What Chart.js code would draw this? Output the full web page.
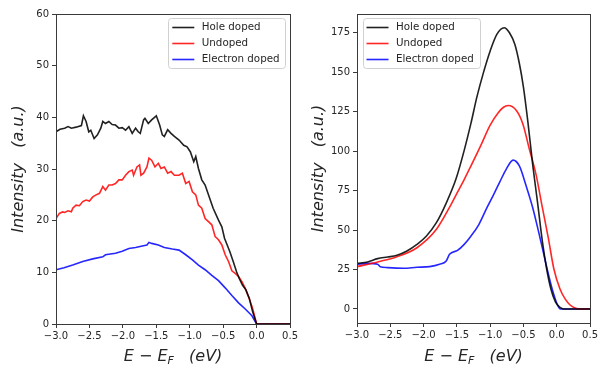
<!DOCTYPE html>
<html lang="en">
<head>
<meta charset="UTF-8">
<title>Doping spectra</title>
<style>
  body { margin: 0; background: #fff; }
  .wrap { display: flex; width: 600px; height: 368px; }
  .wrap div { width: 300px; height: 368px; }
</style>
</head>
<body>
<div class="wrap">
  <div><canvas id="left" width="300" height="368"></canvas></div>
  <div><canvas id="right" width="300" height="368"></canvas></div>
</div>

<script src="https://cdn.jsdelivr.net/npm/chart.js"></script>
<script>
// ---- data ----
const seriesNames = ['Hole doped', 'Undoped', 'Electron doped'];
const xTicks = [-3.0, -2.5, -2.0, -1.5, -1.0, -0.5, 0.0, 0.5];
const yTicksLeft = [0, 10, 20, 30, 40, 50, 60];
const yTicksRight = [0, 25, 50, 75, 100, 125, 150, 175];

// left panel
const holeE_L = [-3.0,-2.94,-2.87,-2.82,-2.77,-2.70,-2.62,-2.59,-2.55,-2.51,-2.48,-2.43,-2.38,-2.33,-2.30,-2.26,-2.21,-2.16,-2.11,-2.06,-2.01,-1.96,-1.91,-1.86,-1.81,-1.77,-1.74,-1.69,-1.67,-1.62,-1.57,-1.50,-1.45,-1.41,-1.38,-1.33,-1.28,-1.23,-1.16,-1.09,-1.04,-0.99,-0.94,-0.91,-0.87,-0.82,-0.77,-0.72,-0.65,-0.57,-0.52,-0.48,-0.40,-0.35,-0.30,-0.26,-0.21,-0.16,-0.11,-0.06,0.0,0.5];
const holeI_L = [37.2,37.7,37.9,38.2,37.9,38.1,38.4,40.3,39.2,37.2,37.5,35.9,36.6,37.9,39.2,38.8,39.2,38.6,38.5,37.9,38.0,37.5,38.2,36.9,37.9,37.2,36.9,39.5,39.8,38.8,39.5,40.3,38.5,36.6,36.3,37.6,36.9,36.3,35.6,34.6,34.3,33.3,31.4,32.4,30.1,27.9,26.9,25.0,22.4,20.1,18.8,16.6,14.0,12.1,10.1,8.8,7.5,6.6,5.0,2.4,0,0];

const undopedE_L = [-3.0,-2.95,-2.90,-2.87,-2.82,-2.77,-2.75,-2.70,-2.65,-2.60,-2.55,-2.50,-2.45,-2.40,-2.35,-2.30,-2.26,-2.21,-2.16,-2.11,-2.06,-2.01,-1.96,-1.91,-1.86,-1.84,-1.79,-1.75,-1.73,-1.69,-1.64,-1.61,-1.57,-1.52,-1.47,-1.43,-1.38,-1.33,-1.28,-1.23,-1.16,-1.11,-1.06,-1.01,-0.96,-0.91,-0.87,-0.82,-0.77,-0.72,-0.67,-0.62,-0.57,-0.52,-0.47,-0.42,-0.37,-0.32,-0.27,-0.22,-0.17,-0.11,-0.06,0.0,0.5];
const undopedI_L = [20.4,21.4,21.7,21.6,21.9,21.7,22.4,23.0,22.9,23.7,24.0,23.8,24.6,25.0,25.3,26.6,25.9,26.9,26.9,27.2,27.9,27.9,28.8,29.5,29.8,28.8,30.4,30.8,28.8,29.2,30.4,32.1,31.7,30.4,31.1,30.1,30.4,29.2,29.5,28.8,28.8,29.2,27.2,27.6,25.6,25.0,23.0,22.4,20.4,19.8,19.2,16.9,16.3,15.3,13.4,12.1,10.3,9.8,9.2,8.2,6.9,4.9,3.0,0,0];

const electronE_L = [-3.0,-2.88,-2.75,-2.60,-2.45,-2.30,-2.26,-2.11,-2.01,-1.91,-1.81,-1.71,-1.64,-1.61,-1.57,-1.47,-1.38,-1.26,-1.16,-1.06,-0.96,-0.87,-0.77,-0.67,-0.57,-0.47,-0.37,-0.27,-0.17,-0.07,0.0,0.5];
const electronI_L = [10.5,10.9,11.4,12.1,12.6,13.0,13.4,13.7,14.1,14.6,14.8,15.1,15.3,15.8,15.6,15.3,14.8,14.5,14.3,13.4,12.4,11.4,10.5,9.4,8.4,7.0,5.5,4.1,2.9,1.6,0,0];

// right panel
const holeE_R = [-3.0,-2.84,-2.69,-2.54,-2.40,-2.25,-2.10,-1.96,-1.81,-1.66,-1.51,-1.39,-1.29,-1.20,-1.10,-1.00,-0.90,-0.79,-0.71,-0.63,-0.56,-0.50,-0.435,-0.36,-0.29,-0.215,-0.15,-0.09,-0.02,0.05,0.10,0.5];
const holeI_R = [28.9,29.8,31.9,32.9,34.0,36.7,40.9,46.1,54.5,67.1,82.8,100.5,117.4,134.2,149.9,163.5,174.0,178.2,175.0,167.7,155.2,140.4,119.0,91.0,68.0,42.5,25.0,13.0,4.5,1.0,0,0];

const undopedE_R = [-3.0,-2.69,-2.40,-2.10,-1.81,-1.59,-1.51,-1.39,-1.29,-1.147,-1.0,-0.876,-0.80,-0.73,-0.607,-0.51,-0.41,-0.31,-0.224,-0.127,-0.044,0.05,0.128,0.20,0.275,0.35,0.5];
const undopedI_R = [26.8,29.8,33.1,38.8,50.3,66.0,72.5,82.0,90.5,103.0,116.5,124.5,127.8,128.9,125.8,117.4,101.0,85.0,66.0,45.0,25.5,12.5,6.2,2.5,0.6,0,0];

const electronE_R = [-3.0,-2.84,-2.69,-2.65,-2.54,-2.30,-2.10,-1.91,-1.76,-1.66,-1.61,-1.49,-1.39,-1.29,-1.17,-1.05,-0.95,-0.853,-0.76,-0.656,-0.56,-0.46,-0.36,-0.29,-0.215,-0.14,-0.068,0.006,0.054,0.5];
const electronI_R = [28.3,28.9,28.3,26.8,26.2,25.8,26.4,26.8,28.3,30.4,34.6,37.1,40.9,46.1,53.5,64.0,72.3,80.7,88.5,94.3,90.5,78.0,64.0,52.0,38.5,24.5,12.5,3.0,0,0];

const colors = ['rgba(0,0,0,0.87)', 'rgba(255,0,0,0.85)', 'rgba(0,0,255,0.85)'];
const textColor = '#262626';
const spineColor = '#3a3a3a';
const fontFamily = '"DejaVu Sans", sans-serif';

function points(xs, ys) {
    return xs.map(function(x, i) { return { x: x, y: ys[i] }; });
}

function fmtTick(v, digits) {
    return v.toFixed(digits).replace('-', '\u2212');
}

// box round the plot, x title with subscript, legend inside the axes
const decorations = {
    id: 'decorations',
    afterDraw(chart, args, opts) {
        const ctx = chart.ctx;
        const a = chart.chartArea;
        ctx.save();

        // full frame
        ctx.strokeStyle = spineColor;
        ctx.lineWidth = 1;
        ctx.strokeRect(Math.round(a.left) + 0.5, Math.round(a.top) + 0.5,
                       Math.round(a.right - a.left), Math.round(a.bottom - a.top));

        // x title:  E - E_F   (eV)
        const big = 'italic 16px ' + fontFamily;
        const small = 'italic 11px ' + fontFamily;
        const p1 = 'E \u2212 E', p2 = 'F', p3 = '   (eV)';
        ctx.fillStyle = textColor;
        ctx.textBaseline = 'alphabetic';
        ctx.textAlign = 'left';
        ctx.font = big;
        const w1 = ctx.measureText(p1).width;
        const w3 = ctx.measureText(p3).width;
        ctx.font = small;
        const w2 = ctx.measureText(p2).width;
        let x = (a.left + a.right) / 2 - (w1 + w2 + w3) / 2;
        const y = 361;
        ctx.font = big; ctx.fillText(p1, x, y); x += w1;
        ctx.font = small; ctx.fillText(p2, x, y + 3); x += w2;
        ctx.font = big; ctx.fillText(p3, x, y);

        // legend
        ctx.font = '10.3px ' + fontFamily;
        let maxW = 0;
        chart.data.datasets.forEach(function(ds) {
            maxW = Math.max(maxW, ctx.measureText(ds.label).width);
        });
        const boxW = 34 + maxW + 5;
        const boxH = 50;
        const bx = opts.side === 'right' ? a.right - 5 - boxW : a.left + 5.5;
        const by = a.top + 4;
        ctx.fillStyle = 'rgba(255,255,255,0.85)';
        ctx.strokeStyle = '#d0d0d0';
        ctx.beginPath();
        ctx.roundRect(Math.round(bx) + 0.5, Math.round(by) + 0.5, Math.round(boxW), boxH, 3);
        ctx.fill();
        ctx.stroke();
        ctx.textBaseline = 'middle';
        chart.data.datasets.forEach(function(ds, i) {
            const ry = by + 9.5 + i * 16;
            ctx.strokeStyle = ds.borderColor;
            ctx.lineWidth = 1.6;
            ctx.beginPath();
            ctx.moveTo(bx + 4, ry);
            ctx.lineTo(bx + 26, ry);
            ctx.stroke();
            ctx.fillStyle = textColor;
            ctx.fillText(ds.label, bx + 33.5, ry);
        });
        ctx.restore();
    }
};

function makeChart(id, sets, yMin, yMax, yTicks, pad, yWidth, xHeight, side, smooth) {
    const ctx = document.getElementById(id);
    return new Chart(ctx, {
        type: 'line',
        data: {
            datasets: sets.map(function(s, i) {
                return {
                    label: seriesNames[i],
                    data: s,
                    borderColor: colors[i],
                    borderWidth: 1.6,
                    pointRadius: 0,
                    fill: false,
                    tension: 0,
                    cubicInterpolationMode: smooth ? 'monotone' : 'default'
                };
            })
        },
        options: {
            responsive: false,
            animation: false,
            events: [],
            layout: { padding: pad },
            plugins: {
                legend: { display: false },
                tooltip: { enabled: false },
                decorations: { side: side }
            },
            scales: {
                x: {
                    type: 'linear',
                    min: -3.0,
                    max: 0.5,
                    afterBuildTicks: function(s) { s.ticks = xTicks.map(function(v) { return { value: v }; }); },
                    afterFit: function(s) { s.height = xHeight; },
                    ticks: {
                        color: textColor,
                        font: { family: fontFamily, size: 10 },
                        padding: 2,
                        maxRotation: 0,
                        autoSkip: false,
                        callback: function(v) { return fmtTick(v, 1); }
                    },
                    grid: { drawOnChartArea: false, drawTicks: true, tickLength: 4, color: spineColor },
                    border: { display: true, color: spineColor }
                },
                y: {
                    type: 'linear',
                    min: yMin,
                    max: yMax,
                    afterBuildTicks: function(s) { s.ticks = yTicks.map(function(v) { return { value: v }; }); },
                    afterFit: function(s) { s.width = yWidth; },
                    ticks: {
                        color: textColor,
                        font: { family: fontFamily, size: 10 },
                        padding: 3,
                        autoSkip: false,
                        callback: function(v) { return fmtTick(v, 0); }
                    },
                    grid: { drawOnChartArea: false, drawTicks: true, tickLength: 4, color: spineColor },
                    border: { display: true, color: spineColor },
                    title: {
                        display: true,
                        text: 'Intensity   (a.u.)',
                        color: textColor,
                        font: { family: fontFamily, size: 16, style: 'italic' },
                        padding: { top: 9, bottom: 0 }
                    }
                }
            }
        },
        plugins: [decorations]
    });
}

makeChart('left',
    [points(holeE_L, holeI_L), points(undopedE_L, undopedI_L), points(electronE_L, electronI_L)],
    0, 60, yTicksLeft,
    { left: 0, top: 14, right: 6, bottom: 0 }, 56, 44, 'right', false);

makeChart('right',
    [points(holeE_R, holeI_R), points(undopedE_R, undopedI_R), points(electronE_R, electronI_R)],
    -8.9, 186.9, yTicksRight,
    { left: 0, top: 14, right: 5, bottom: 0 }, 57, 45, 'left', true);
</script>
</body>
</html>
